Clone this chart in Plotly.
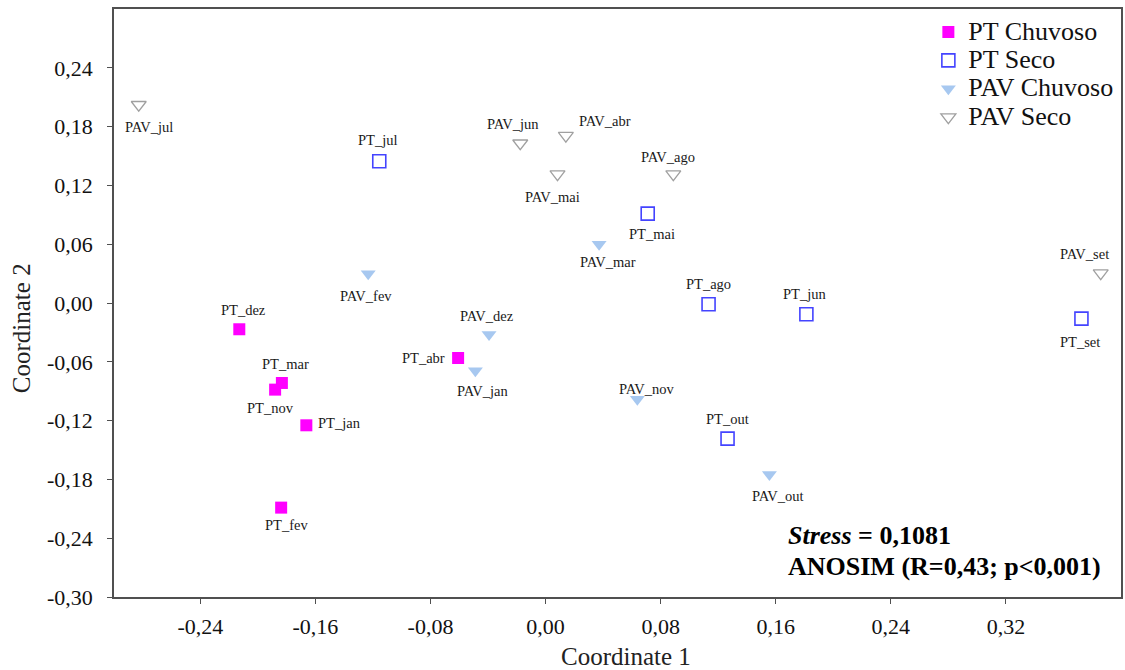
import plotly.graph_objects as go

# NMDS ordination scores per sampling unit
pt_chuvoso_names = ["PT_dez", "PT_mar", "PT_nov", "PT_jan", "PT_fev", "PT_abr"]
pt_chuvoso_x = [-0.2129, -0.1833, -0.1880, -0.1663, -0.1838, -0.0608]
pt_chuvoso_y = [-0.0268, -0.0816, -0.0884, -0.1248, -0.2088, -0.0561]

pt_seco_names = ["PT_jul", "PT_mai", "PT_ago", "PT_jun", "PT_out", "PT_set"]
pt_seco_x = [-0.1156, 0.0710, 0.1133, 0.1813, 0.1265, 0.3725]
pt_seco_y = [0.1446, 0.0912, -0.0013, -0.0115, -0.1384, -0.0159]

pav_chuvoso_names = ["PAV_fev", "PAV_mar", "PAV_dez", "PAV_jan", "PAV_nov", "PAV_out"]
pav_chuvoso_x = [-0.1233, 0.0372, -0.0393, -0.0488, 0.0638, 0.1556]
pav_chuvoso_y = [0.0298, 0.0599, -0.0321, -0.0691, -0.0983, -0.1750]

pav_seco_names = ["PAV_jul", "PAV_jun", "PAV_abr", "PAV_mai", "PAV_ago", "PAV_set"]
pav_seco_x = [-0.2828, -0.0176, 0.0141, 0.0083, 0.0888, 0.3859]
pav_seco_y = [0.2023, 0.1630, 0.1707, 0.1315, 0.1315, 0.0305]

x_tickvals = [-0.24, -0.16, -0.08, 0.00, 0.08, 0.16, 0.24, 0.32]
x_ticktext = ["-0,24", "-0,16", "-0,08", "0,00", "0,08", "0,16", "0,24", "0,32"]
y_tickvals = [-0.30, -0.24, -0.18, -0.12, -0.06, 0.00, 0.06, 0.12, 0.18, 0.24]
y_ticktext = ["-0,30", "-0,24", "-0,18", "-0,12", "-0,06", "0,00", "0,06", "0,12", "0,18", "0,24"]

stress_text = "<b><i>Stress</i> = 0,1081</b>"
anosim_text = "<b>ANOSIM (R=0,43; p<0,001)</b>"

# label placement relative to each marker (pixels: right, down)
LABEL_OFFSETS = {
    "PT_dez": (4, -19), "PT_mar": (4, -19), "PT_nov": (-5, 18), "PT_jan": (33, -2),
    "PT_fev": (5, 17), "PT_abr": (-35, 0),
    "PT_jul": (-2, -21), "PT_mai": (4, 20), "PT_ago": (0, -20), "PT_jun": (-2, -20),
    "PT_out": (0, -20), "PT_set": (-1, 23),
    "PAV_fev": (-2, 22), "PAV_mar": (9, 18), "PAV_dez": (-2, -18), "PAV_jan": (8, 20),
    "PAV_nov": (10, -10), "PAV_out": (9, 21),
    "PAV_jul": (10, 22), "PAV_jun": (-7, -19), "PAV_abr": (39, -15), "PAV_mai": (-5, 23),
    "PAV_ago": (-5, -17), "PAV_set": (-16, -19),
}

FONT = "Liberation Serif"
AXIS_COLOR = "#505050"

groups = [
    ("PT Chuvoso", pt_chuvoso_names, pt_chuvoso_x, pt_chuvoso_y,
     dict(symbol="square", size=12, color="#FF00FF", line=dict(width=0))),
    ("PT Seco", pt_seco_names, pt_seco_x, pt_seco_y,
     dict(symbol="square-open", size=13, color="#4444FF", line=dict(width=1.6))),
    ("PAV Chuvoso", pav_chuvoso_names, pav_chuvoso_x, pav_chuvoso_y,
     dict(symbol="triangle-down", size=13, color="#A7C8F0", line=dict(width=0))),
    ("PAV Seco", pav_seco_names, pav_seco_x, pav_seco_y,
     dict(symbol="triangle-down-open", size=13, color="#A0A0A0", line=dict(width=1.3))),
]

fig = go.Figure()
annotations = []
for name, labels, xs, ys, marker in groups:
    fig.add_trace(go.Scatter(
        x=xs, y=ys, mode="markers", marker=marker,
        name=f'<span style="font-size:26px">{name}</span>',
        hovertext=labels, hoverinfo="text",
    ))
    for lab, xv, yv in zip(labels, xs, ys):
        dx, dy = LABEL_OFFSETS[lab]
        annotations.append(dict(
            x=xv, y=yv, xref="x", yref="y", text=lab, showarrow=False,
            xshift=dx, yshift=-dy, xanchor="center", yanchor="middle",
            font=dict(family=FONT, size=14.5, color="#1a1a1a"),
        ))

L, R, T, B, W, H = 114, 2, 9, 73, 1125, 670
pw, ph = W - L - R, H - T - B


def px_to_paper(px, py):
    """Convert a pixel position on the page to paper coordinates."""
    return (px - L) / pw, (H - B - py) / ph


sx, sy = px_to_paper(787, 535.5)
ax_, ay_ = px_to_paper(787, 566)
tx1, ty1 = px_to_paper(627, 656)
tx2, ty2 = px_to_paper(21, 328)

annotations += [
    dict(x=sx, y=sy, xref="paper", yref="paper", text=stress_text,
         showarrow=False, xanchor="left", yanchor="middle",
         font=dict(family=FONT, size=26, color="black")),
    dict(x=ax_, y=ay_, xref="paper", yref="paper", text=anosim_text,
         showarrow=False, xanchor="left", yanchor="middle",
         font=dict(family=FONT, size=26, color="black")),
    dict(x=tx1, y=ty1, xref="paper", yref="paper", text="Coordinate 1",
         showarrow=False, xanchor="center", yanchor="middle",
         font=dict(family=FONT, size=25, color="#222")),
    dict(x=tx2, y=ty2, xref="paper", yref="paper", text="Coordinate 2",
         showarrow=False, xanchor="center", yanchor="middle", textangle=-90,
         font=dict(family=FONT, size=25, color="#222")),
]

axis_common = dict(
    showgrid=False, zeroline=False, showline=True, linecolor=AXIS_COLOR,
    linewidth=1.5, mirror=True, ticks="outside", ticklen=5, tickwidth=1.2,
    tickcolor=AXIS_COLOR, tickfont=dict(family=FONT, size=22, color="#111"),
)

fig.update_layout(
    width=W, height=H,
    margin=dict(l=L, r=R, t=T, b=B),
    paper_bgcolor="white", plot_bgcolor="white",
    font=dict(family=FONT),
    xaxis=dict(range=[-0.30, 0.40], tickvals=x_tickvals, ticktext=x_ticktext,
               ticklabelstandoff=4, **axis_common),
    yaxis=dict(range=[-0.30, 0.30], tickvals=y_tickvals, ticktext=y_ticktext,
               ticklabelstandoff=10, **axis_common),
    legend=dict(x=0.8087, y=0.9934, xanchor="left", yanchor="top",
                bgcolor="rgba(0,0,0,0)", borderwidth=0,
                font=dict(family=FONT, size=19.5, color="#111"),
                tracegroupgap=0),
    annotations=annotations,
    showlegend=True,
)

fig.write_html("out.html")
